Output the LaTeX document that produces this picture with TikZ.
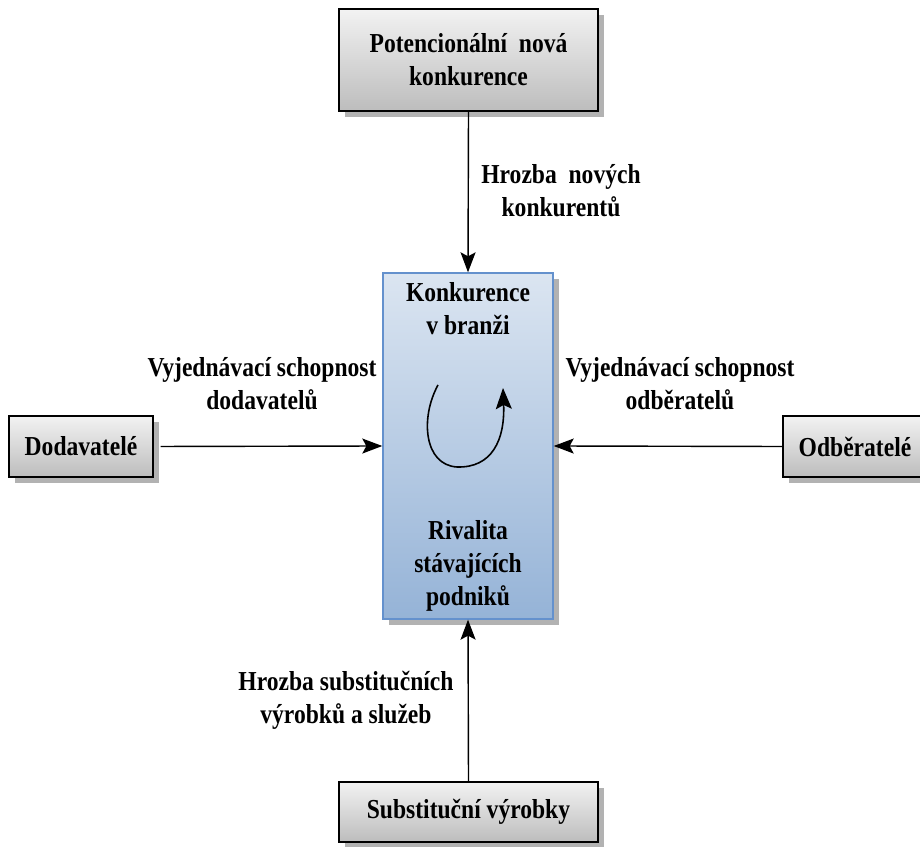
\documentclass[tikz,border=0pt]{standalone}
\usepackage{fontspec}
\setmainfont{Liberation Serif}[FakeStretch=0.86]
\usetikzlibrary{arrows.meta,shadows}
\definecolor{rivtop}{RGB}{219,229,241}
\definecolor{rivbot}{RGB}{149,179,215}
\definecolor{rivline}{RGB}{100,145,205}
\begin{document}
\begin{tikzpicture}[x=0.02cm,y=-0.02cm,
        font=\fontsize{15.6}{18.8}\selectfont\bfseries,
        graybox/.style={draw=black,line width=0.8pt,top color=white!95!black,bottom color=white!74!black,
            drop shadow={shadow xshift=0.12cm,shadow yshift=-0.12cm,fill=white!70!black,opacity=1},
            align=center,inner sep=0pt},
        arr/.style={line width=0.8pt,-{Stealth[length=0.4cm,width=0.3cm,inset=0.08cm]}},
        lbl/.style={align=center,inner sep=0pt}]
    \clip (0,0) rectangle (920,847);
    \fill[white] (0,0) rectangle (920,847);
    % boxes
    \node[graybox,minimum width=5.18cm,minimum height=2.04cm] (potential) at (468.5,60) {Potencionální\ \ nová\\konkurence};
    \node[draw=rivline,line width=0.8pt,top color=rivtop,bottom color=rivbot,
        drop shadow={shadow xshift=0.12cm,shadow yshift=-0.12cm,fill=white!70!black,opacity=1},
        minimum width=3.4cm,minimum height=6.92cm,inner sep=0pt] (rivalry) at (468,446) {};
    \node[graybox,minimum width=2.88cm,minimum height=1.22cm] (suppliers) at (81,446.5) {Dodavatelé};
    \node[graybox,minimum width=2.88cm,minimum height=1.22cm] (buyers) at (855,446.5) {Odběratelé};
    \node[graybox,minimum width=5.18cm,minimum height=1.2cm] (substitutes) at (468.5,812) {Substituční výrobky};
    % texts
    \node[lbl] (branch) at (468,309) {Konkurence\\v branži};
    \node[lbl] (existing) at (468,566) {Rivalita\\stávajících\\podniků};
    \node[lbl] (threatnew) at (561,191) {Hrozba\ \ nových\\konkurentů};
    \node[lbl] (supplierpower) at (262,384) {Vyjednávací schopnost\\dodavatelů};
    \node[lbl] (buyerpower) at (680,384) {Vyjednávací schopnost\\odběratelů};
    \node[lbl] (threatsub) at (346,700) {Hrozba substitučních\\výrobků a služeb};
    % arrows
    \draw[arr] (potential.south) -- (rivalry.north);
    \draw[arr,shorten <=0.14cm] (suppliers.east) -- (rivalry.west);
    \draw[arr] (buyers.west) -- (rivalry.east);
    \draw[arr] (substitutes.north) -- (rivalry.south);
    \draw[line width=0.9pt,-{Stealth[length=0.42cm,width=0.32cm,inset=0.08cm]}]
        (438,385) .. controls (420,418) and (424,465) .. (457,467)
        .. controls (492,468) and (505,440) .. (503,388);
\end{tikzpicture}
\end{document}
